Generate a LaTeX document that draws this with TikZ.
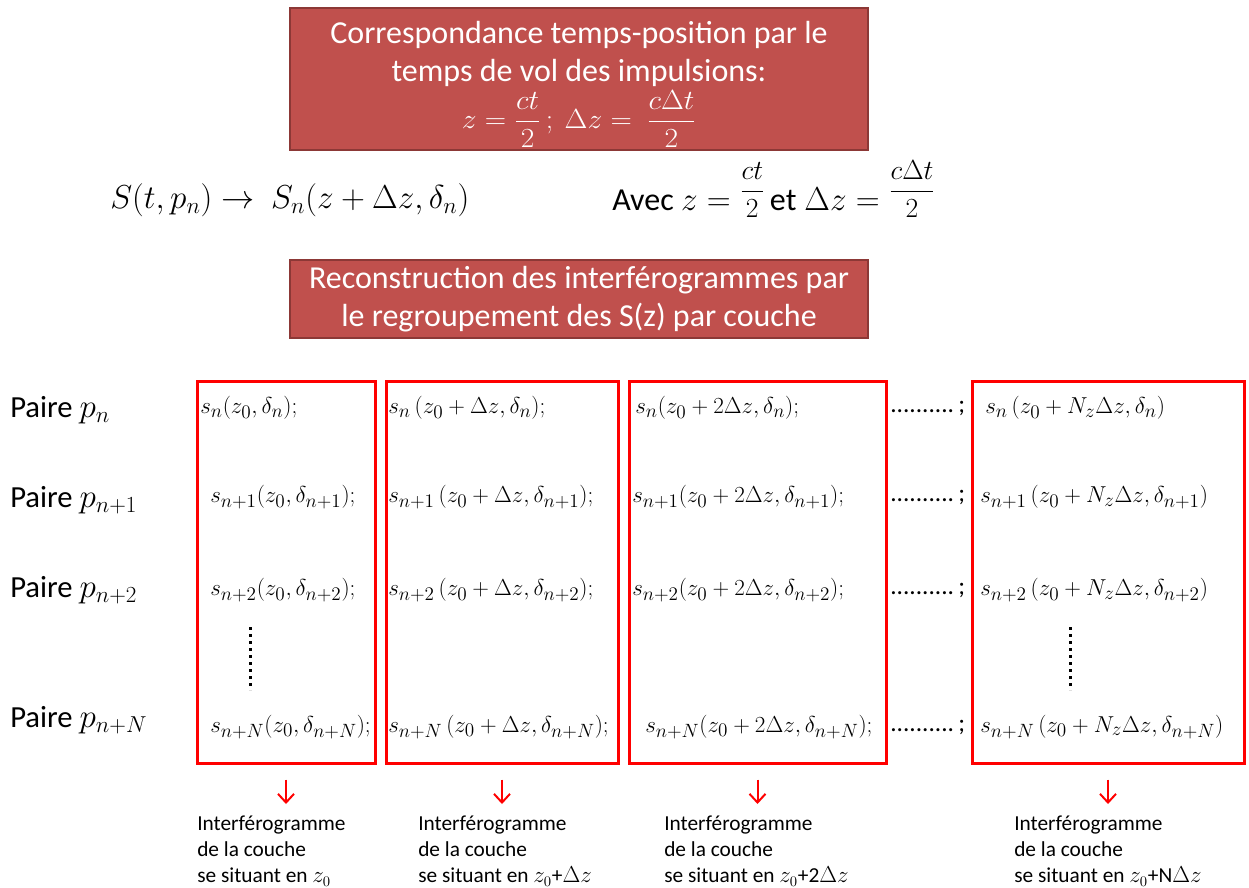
\documentclass[tikz,border=0pt]{standalone}
\usepackage{fontspec}
\setmainfont{Carlito}
\usepackage{amsmath}
\usepackage{graphicx}
\usetikzlibrary{arrows.meta,fit}
\definecolor{boxfill}{HTML}{C0504D}
\definecolor{boxedge}{HTML}{8C3836}
\begin{document}
\begin{tikzpicture}[x=0.75pt,y=-0.75pt,
 titlebox/.style={draw=boxedge, line width=1.5pt, fill=boxfill, text=white, align=center,
   font=\fontsize{24}{28}\selectfont, minimum width=433.5pt, inner sep=0pt},
 titletext/.style={text=white, align=center, inner sep=0pt, font=\fontsize{24}{28}\selectfont},
 redbox/.style={draw=red, line width=2.25pt, inner sep=0pt},
 cell/.style={anchor=west, inner sep=0pt, font=\fontsize{19}{22}\selectfont},
 pair/.style={anchor=west, inner sep=0pt, font=\fontsize{23}{28}\selectfont},
 eqn/.style={anchor=west, inner sep=0pt, font=\fontsize{24}{28}\selectfont},
 note/.style={anchor=north west, inner sep=0pt, align=left, font=\fontsize{16}{19.5}\selectfont},
 arr/.style={draw=red, line width=1.5pt, -{Straight Barb[length=6.5pt,width=12pt]}},
 vdots/.style={line width=2.25pt, dash pattern=on 2pt off 3.25pt}]
\useasboundingbox (0,0) rectangle (1249,888);

% first title box
\node[titlebox, minimum height=106.5pt] (t1) at (579,79) {};
\node[titletext] (t1a) at (579,54) {Correspondance temps-position par le\\ temps de vol des impulsions:};
\node[titletext, font=\fontsize{20.74}{24}\selectfont] (t1b) at (579,119)
  {\scalebox{1.07}[1]{$z=\dfrac{ct}{2}\,;\ \Delta z=\ \dfrac{c\Delta t}{2}$}};

% equations
\node[eqn] (eq1) at (110,200) {$S(t,p_n)\rightarrow\ S_n(z+\Delta z,\delta_n)$};
\node[eqn, anchor=base west] (eq2) at (612,210)
  {Avec $z=$\hspace{7pt}\raisebox{8.5pt}{\fontsize{20}{24}\selectfont$\dfrac{ct}{2}$}\,et\hspace{6pt}$\Delta z=$\hspace{7pt}\raisebox{8.5pt}{\fontsize{20}{24}\selectfont$\dfrac{c\Delta t}{2}$}};

% second title box
\node[titlebox, minimum height=58.5pt] (t2) at (579,299)
  {Reconstruction des interférogrammes par\\ le regroupement des S(z) par couche};

% red boxes
\node[redbox, fit={(197,381) (375,763)}] (b1) {};
\node[redbox, fit={(386,381) (618,763)}] (b2) {};
\node[redbox, fit={(629,381) (886,763)}] (b3) {};
\node[redbox, fit={(972,381) (1244,763)}] (b4) {};

% row labels
\node[pair] (p1) at (10,410) {Paire $p_n$};
\node[pair] (p2) at (10,500) {Paire $p_{n+1}$};
\node[pair] (p3) at (10,590) {Paire $p_{n+2}$};
\node[pair] (p4) at (10,720) {Paire $p_{n+N}$};

% column 1
\node[cell] (c11) at (200,408) {$s_n(z_0,\delta_n);$};
\node[cell] (c12) at (210,497) {$s_{n+1}(z_0,\delta_{n+1});$};
\node[cell] (c13) at (210,590) {$s_{n+2}(z_0,\delta_{n+2});$};
\node[cell] (c14) at (210,727) {$s_{n+N}(z_0,\delta_{n+N});$};
% column 2
\node[cell] (c21) at (388,408) {$s_n\,(z_0+\Delta z,\delta_n);$};
\node[cell] (c22) at (388,497) {$s_{n+1}\,(z_0+\Delta z,\delta_{n+1});$};
\node[cell] (c23) at (388,590) {$s_{n+2}\,(z_0+\Delta z,\delta_{n+2});$};
\node[cell] (c24) at (388,727) {$s_{n+N}\,(z_0+\Delta z,\delta_{n+N});$};
% column 3
\node[cell] (c31) at (635,408) {$s_n(z_0+2\Delta z,\delta_n);$};
\node[cell] (c32) at (632,497) {$s_{n+1}(z_0+2\Delta z,\delta_{n+1});$};
\node[cell] (c33) at (632,590) {$s_{n+2}(z_0+2\Delta z,\delta_{n+2});$};
\node[cell] (c34) at (645,727) {$s_{n+N}(z_0+2\Delta z,\delta_{n+N});$};
% dots
\node[cell] (d1) at (890,408) {..........\,;};
\node[cell] (d2) at (890,497) {..........\,;};
\node[cell] (d3) at (890,590) {..........\,;};
\node[cell] (d4) at (890,727) {..........\,;};
% column 4
\node[cell] (c41) at (985,408) {$s_n\,(z_0+N_z\Delta z,\delta_n)$};
\node[cell] (c42) at (980,497) {$s_{n+1}\,(z_0+N_z\Delta z,\delta_{n+1})$};
\node[cell] (c43) at (980,590) {$s_{n+2}\,(z_0+N_z\Delta z,\delta_{n+2})$};
\node[cell] (c44) at (980,727) {$s_{n+N}\,(z_0+N_z\Delta z,\delta_{n+N})$};

% vertical dotted lines
\draw[vdots] (250,627) -- (250,690);
\draw[vdots] (1070,627) -- (1070,690);

% notes
\node[note] (n1) at (197,816) {Interférogramme\\ de la couche\\ se situant en $z_0$};
\node[note] (n2) at (418,816) {Interférogramme\\ de la couche\\ se situant en $z_0$+$\Delta z$};
\node[note] (n3) at (664,816) {Interférogramme\\ de la couche\\ se situant en $z_0$+2$\Delta z$};
\node[note] (n4) at (1014,816) {Interférogramme\\ de la couche\\ se situant en $z_0$+N$\Delta z$};

% arrows
\foreach \i in {1,2,3,4}
  \draw[arr, shorten <=11.25pt, shorten >=9pt] (b\i.south) -- (b\i.south |- n\i.north);
\end{tikzpicture}
\end{document}
